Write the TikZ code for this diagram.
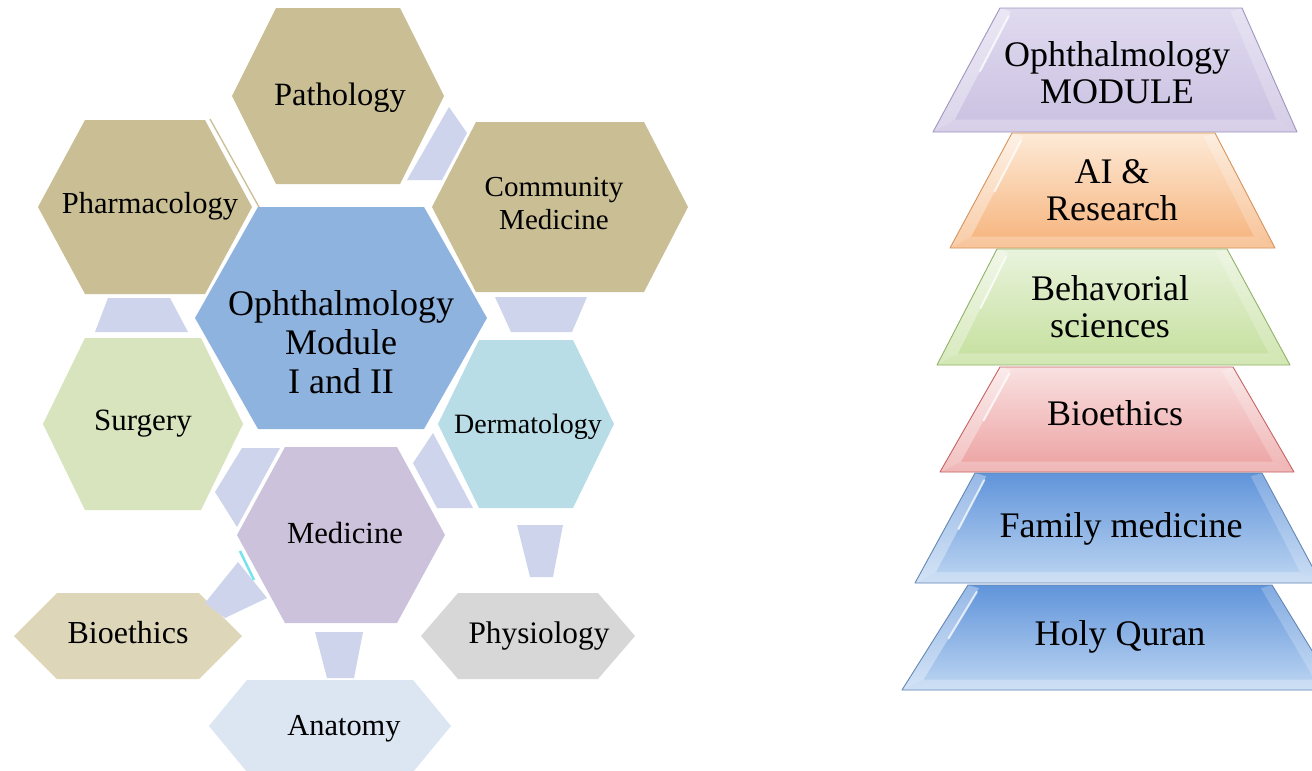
\documentclass[tikz,border=0pt]{standalone}
\usepackage{fontspec}
\setmainfont{Liberation Serif}
\usetikzlibrary{calc}
\definecolor{tanc}{RGB}{201,190,148}
\definecolor{centc}{RGB}{143,179,223}
\definecolor{surgc}{RGB}{215,228,189}
\definecolor{dermc}{RGB}{184,221,230}
\definecolor{medc}{RGB}{204,194,220}
\definecolor{bioc}{RGB}{222,214,184}
\definecolor{physc}{RGB}{215,215,215}
\definecolor{anatc}{RGB}{220,230,243}
\definecolor{connc}{RGB}{206,212,236}
\definecolor{sliverc}{RGB}{120,225,240}
\definecolor{omtop}{RGB}{224,218,239}
\definecolor{ombot}{RGB}{202,192,225}
\definecolor{omedge}{RGB}{160,150,190}
\definecolor{aitop}{RGB}{253,234,215}
\definecolor{aibot}{RGB}{246,178,122}
\definecolor{aiedge}{RGB}{214,148,92}
\definecolor{bstop}{RGB}{233,243,220}
\definecolor{bsbot}{RGB}{196,223,156}
\definecolor{bsedge}{RGB}{145,178,105}
\definecolor{betop}{RGB}{249,225,225}
\definecolor{bebot}{RGB}{236,160,160}
\definecolor{beedge}{RGB}{200,100,100}
\definecolor{fmtop}{RGB}{96,148,218}
\definecolor{fmbot}{RGB}{190,214,242}
\definecolor{fmedge}{RGB}{100,135,180}
\newcommand{\myfs}[2]{\fontsize{#1}{#2}\selectfont}
% hexagon: cx, cy, half-width, half-height, half top edge, colour
\newcommand{\hexshape}[6]{\fill[#6] ({#1-#3},#2) -- ({#1-#5},{#2-#4}) -- ({#1+#5},{#2-#4}) -- ({#1+#3},#2) -- ({#1+#5},{#2+#4}) -- ({#1-#5},{#2+#4}) -- cycle;}
% bevelled trapezoid: TLx, TRx, ytop, BLx, BRx, ybot, top colour, bottom colour, edge colour
\newcommand{\bevtrap}[9]{%
  \coordinate (tl) at (#1,#3); \coordinate (tr) at (#2,#3);
  \coordinate (br) at (#5,#6); \coordinate (bl) at (#4,#6);
  \coordinate (itl) at ($(tl)!0.03!(bl)+(13,0)$);
  \coordinate (itr) at ($(tr)!0.03!(br)+(-13,0)$);
  \coordinate (ibr) at ($(br)!0.1!(tr)+(-15,0)$);
  \coordinate (ibl) at ($(bl)!0.1!(tl)+(15,0)$);
  \shade[top color=#7,bottom color=#8] (tl)--(tr)--(br)--(bl)--cycle;
  \fill[white,opacity=.35] (tl)--(itl)--(ibl)--(bl)--cycle;
  \fill[white,opacity=.25] (bl)--(ibl)--(ibr)--(br)--cycle;
  \fill[white,opacity=.22] (tr)--(br)--(ibr)--(itr)--cycle;
  \draw[white,line width=2,opacity=.75,line cap=round] ($(itl)!0.04!(ibl)$) -- ($(itl)!0.55!(ibl)$);
  \draw[#9,line width=0.9,line join=round] (tl)--(tr)--(br)--(bl)--cycle;
}
\tikzset{txt/.style={inner sep=0pt,align=center,text=black}}
\begin{document}
\begin{tikzpicture}[x=1pt,y=-1pt]
\useasboundingbox (0,0) rectangle (1312,771);
\fill[white] (0,0) rectangle (1312,771);

% ---------- hexagon cluster ----------
\hexshape{338}{96}{106}{88}{62}{tanc}
\hexshape{145}{207}{107}{87}{60}{tanc}
\draw[tanc,line width=1.3] (210,119) -- (259,207) -- (211,295);
\hexshape{560}{207}{128}{85}{84}{tanc}
\hexshape{341}{318}{146}{111}{83}{centc}
\hexshape{143}{424}{100}{86}{58}{surgc}
\hexshape{526}{424}{88}{84}{47}{dermc}
\hexshape{341}{535}{104}{88}{56}{medc}
\hexshape{128}{636}{114}{43}{71}{bioc}
\hexshape{528}{636}{107}{43}{70}{physc}
\hexshape{330}{726}{121}{46}{83}{anatc}

% connectors
\fill[connc] (449,107) -- (467,133) -- (442,180) -- (407,180) -- cycle;
\fill[connc] (108,298) -- (170,298) -- (188,332) -- (95,332) -- cycle;
\fill[connc] (495,297) -- (587,297) -- (572,332) -- (511,332) -- cycle;
\fill[connc] (242,448) -- (280,448) -- (237,527) -- (215,492) -- cycle;
\fill[connc] (433,433) -- (413,463) -- (437,508) -- (473,508) -- cycle;
\fill[connc] (517,525) -- (563,525) -- (553,577) -- (530,577) -- cycle;
\fill[connc] (238,562) -- (267,598) -- (225,618) -- (205,603) -- cycle;
\fill[connc] (315,632) -- (363,632) -- (354,678) -- (327,678) -- cycle;
\draw[sliverc,line width=2.5] (240,551) -- (254,580);

% labels
\node[txt,anchor=base,font=\myfs{32.5}{36}] (path) at (340,105) {Pathology};
\node[txt,anchor=base,font=\myfs{30.5}{34}] (pharm) at (150,213) {Pharmacology};
\node[txt,font=\myfs{29}{33}] (comm) at (554,203.6) {Community\\Medicine};
\node[txt,font=\myfs{36}{39}] (oph) at (341,341.7) {Ophthalmology\\Module\\I and II};
\node[txt,anchor=base,font=\myfs{31}{34}] (surg) at (143,430) {Surgery};
\node[txt,anchor=base,font=\myfs{28}{32}] (derm) at (528,433) {Dermatology};
\node[txt,anchor=base,font=\myfs{30.7}{34}] (med) at (345,543) {Medicine};
\node[txt,anchor=base,font=\myfs{32}{35}] (bioL) at (128,643) {Bioethics};
\node[txt,anchor=base,font=\myfs{31.3}{35}] (phys) at (539,643) {Physiology};
\node[txt,anchor=base,font=\myfs{30.4}{34}] (anat) at (344,735) {Anatomy};

% ---------- stacked trapezoids ----------
\bevtrap{1000}{1242}{8}{933}{1297}{132}{omtop}{ombot}{omedge}
\bevtrap{1012}{1215}{133}{950}{1275}{248}{aitop}{aibot}{aiedge}
\bevtrap{997}{1227}{249}{937}{1290}{365}{bstop}{bsbot}{bsedge}
\bevtrap{1000}{1233}{367}{940}{1294}{472}{betop}{bebot}{beedge}
\bevtrap{975}{1262}{473}{915}{1321}{583}{fmtop}{fmbot}{fmedge}
\bevtrap{968}{1272}{585}{902}{1336}{690}{fmtop}{fmbot}{fmedge}

\node[txt,font=\myfs{36}{37}] (om) at (1117,72.2) {Ophthalmology\\MODULE};
\node[txt,font=\myfs{36}{37}] (ai) at (1112,190.4) {AI \&\\Research};
\node[txt,font=\myfs{36}{37}] (bs) at (1110,306.2) {Behavorial\\sciences};
\node[txt,anchor=base,font=\myfs{36}{37}] (beR) at (1115,425.5) {Bioethics};
\node[txt,anchor=base,font=\myfs{36}{37}] (fm) at (1121,537) {Family medicine};
\node[txt,anchor=base,font=\myfs{36}{37}] (hq) at (1120,645) {Holy Quran};
\end{tikzpicture}
\end{document}
